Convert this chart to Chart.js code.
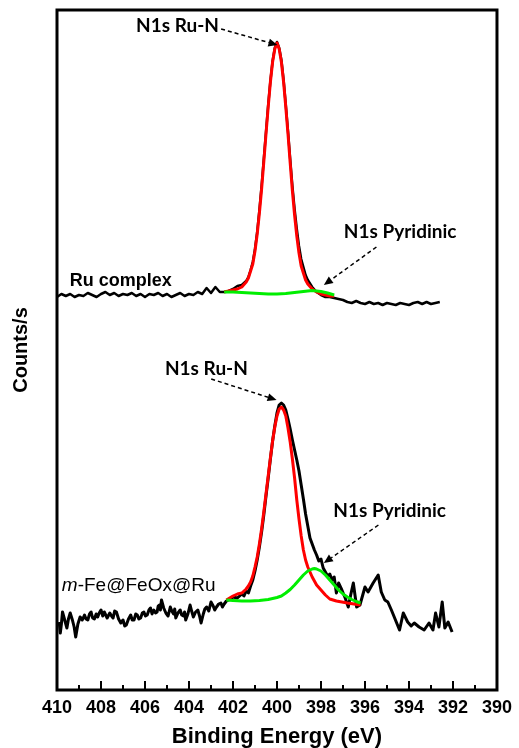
<!DOCTYPE html>
<html>
<head>
<meta charset="utf-8">
<script src="https://cdn.jsdelivr.net/npm/chart.js@4.4.0/dist/chart.umd.min.js"></script>
<style>
html, body { margin: 0; padding: 0; background: #fff; }
#wrap { width: 519px; height: 748px; position: relative; }
</style>
</head>
<body>
<div id="wrap"><canvas id="myChart"></canvas></div>
<script>
// N1s spectra, binding energy (eV) vs counts (a.u., top trace offset up)
const ruE = [410.0, 409.8, 409.6, 409.4, 409.2, 409.0, 408.8, 408.6, 408.4, 408.2, 408.0, 407.8, 407.6, 407.4, 407.2, 407.0, 406.8, 406.6, 406.4, 406.2,
  406.0, 405.8, 405.6, 405.4, 405.2, 405.0, 404.8, 404.6, 404.4, 404.2, 404.0, 403.8, 403.6, 403.4, 403.2, 403.0, 402.8, 402.6,
  402.4, 402.2, 402.0, 401.8, 401.6, 401.4, 401.3, 401.2, 401.1, 401.0, 400.9, 400.8, 400.7, 400.6, 400.5, 400.4, 400.3, 400.2, 400.1, 400.0,
  399.9, 399.8, 399.7, 399.6, 399.5, 399.4, 399.3, 399.2, 399.1, 399.0, 398.9, 398.8, 398.7, 398.6, 398.4, 398.2, 398.0, 397.8, 397.6, 397.4,
  397.2, 397.0, 396.8, 396.6, 396.4, 396.2, 396.0, 395.8, 395.6, 395.4, 395.2, 395.0, 394.8, 394.6, 394.4, 394.2, 394.0, 393.8, 393.6, 393.4,
  393.2, 393.0, 392.8, 392.6];
const ruCounts = [393, 396, 394, 396, 393, 395, 394, 397, 395, 393, 396, 398, 395, 397, 394, 396, 395, 397, 394, 396,
  393, 396, 395, 397, 394, 396, 393, 395, 397, 394, 396, 395, 398, 396, 402, 397, 403, 398,
  398, 399, 401, 404, 405, 409, 413, 420, 428, 441, 458, 480, 504, 531, 558, 585, 609, 629, 642, 648,
  642, 630, 610, 585, 559, 531, 504, 481, 461, 444, 431, 423, 415, 410, 403, 398, 395, 393, 393, 392,
  391, 390, 388, 387, 389, 387, 386, 388, 386, 387, 385, 387, 386, 385, 387, 386, 385, 387, 388, 386,
  388, 386, 387, 388];

// Ru complex fits
const ruFitE = [402.4, 402.2, 402.0, 401.8, 401.6, 401.4, 401.3, 401.2, 401.1, 401.0, 400.9, 400.8, 400.7, 400.6, 400.5, 400.4, 400.3, 400.2, 400.1, 400.0,
  399.9, 399.8, 399.7, 399.6, 399.5, 399.4, 399.3, 399.2, 399.1, 399.0, 398.9, 398.8, 398.7, 398.6, 398.4, 398.2, 398.0, 397.8, 397.6, 397.4];
const ruRuN = [398, 399, 400, 401, 403, 408, 412, 419, 426, 439, 456, 477, 501, 528, 556, 583, 608, 628, 641, 647,
  641, 628, 608, 583, 556, 527, 499, 475, 454, 437, 424, 417, 410, 406, 401, 398, 396, 395, 394, 394];
const ruPyrE = [402.4, 402.0, 401.6, 401.2, 400.8, 400.4, 400.0, 399.6, 399.2, 398.8, 398.4, 398.0, 397.7, 397.4];
const ruPyr = [398, 398, 397.5, 397, 396.5, 396, 396, 396.5, 397.5, 398.5, 399.5, 398.5, 397, 395];

// m-Fe@FeOx@Ru
const feE = [409.9, 409.85, 409.8, 409.75, 409.65, 409.55, 409.48, 409.4, 409.3, 409.22, 409.15, 409.05, 408.95, 408.85, 408.75, 408.68, 408.6, 408.52, 408.45,
  408.38, 408.3, 408.22, 408.15, 408.08, 408.0, 407.92, 407.85, 407.72, 407.6, 407.52, 407.45, 407.38, 407.3, 407.2, 407.1, 407.0,
  406.92, 406.85, 406.75, 406.65, 406.58, 406.5, 406.42, 406.35, 406.28, 406.2, 406.12, 406.05, 405.98, 405.9, 405.82, 405.75, 405.68, 405.6,
  405.52, 405.45, 405.4, 405.35, 405.3, 405.25, 405.15, 405.05, 404.95, 404.85, 404.78, 404.7, 404.65, 404.6, 404.5, 404.4, 404.33, 404.25,
  404.2, 404.15, 404.05, 403.95, 403.88, 403.8, 403.7, 403.6, 403.52, 403.45, 403.35, 403.28, 403.2, 403.1, 403.0, 402.9, 402.83, 402.75,
  402.65, 402.55, 402.48, 402.4,
  402.3, 402.2, 402.0, 401.8, 401.6, 401.5, 401.4, 401.3, 401.2, 401.1, 401.0, 400.9, 400.8, 400.7, 400.6, 400.5, 400.4, 400.3, 400.2, 400.1, 400.0,
  399.9, 399.8, 399.7, 399.6, 399.5, 399.4, 399.3, 399.2, 399.1, 399.0, 398.9, 398.8, 398.7, 398.6, 398.5, 398.4, 398.3, 398.2, 398.1, 398.0,
  397.9, 397.8, 397.7, 397.6, 397.5, 397.4, 397.3, 397.2, 397.05, 396.9, 396.76, 396.65, 396.53, 396.38, 396.23, 396.0, 395.86, 395.63, 395.4,
  395.26, 395.1, 394.96, 394.8, 394.67, 394.43, 394.26, 394.06, 393.9, 393.76, 393.54, 393.31, 393.09, 392.91, 392.79, 392.64, 392.49, 392.37,
  392.22, 392.04];
const feCounts = [68, 57, 66, 78, 70, 62, 71, 77, 70, 63, 53, 66, 73, 70, 75, 71, 70, 76, 78,
  72, 71, 76, 73, 77, 80, 74, 78, 72, 77, 74, 72, 79, 78, 71, 67, 70,
  64, 65, 71, 75, 70, 70, 76, 75, 71, 72, 77, 78, 74, 75, 80, 82, 76, 80,
  77, 78, 84, 85, 80, 90, 82, 77, 74, 83, 79, 76, 81, 72, 77, 80, 75, 74,
  78, 70, 76, 85, 79, 73, 78, 80, 74, 67, 76, 81, 83, 79, 88, 84, 80, 83,
  86, 87, 83, 86,
  89, 90, 93, 92, 96, 94, 99, 97, 104, 110, 119, 130, 143, 158, 175, 194, 212, 231, 249, 264, 277,
  285, 287, 285, 280, 271, 261, 250, 240, 230, 219, 205, 191, 176, 164, 152, 146, 140, 135, 129, 131,
  122, 118, 114, 116, 110, 113, 97, 107, 100, 92, 83, 95, 107, 83, 85, 103, 98, 107, 115,
  98, 90, 88, 80, 73, 60, 77, 68, 64, 67, 63, 60, 67, 60, 77, 63, 88, 62,
  68, 58];

// m-Fe@FeOx@Ru fits
const feRuNE = [402.3, 402.0, 401.8, 401.6, 401.4, 401.3, 401.2, 401.1, 401.0, 400.9, 400.8, 400.7, 400.6, 400.5, 400.4, 400.3, 400.2, 400.1, 400.0,
  399.9, 399.8, 399.7, 399.6, 399.5, 399.4, 399.3, 399.2, 399.1, 399.0, 398.9, 398.8, 398.7, 398.6, 398.5, 398.4, 398.3, 398.2,
  398.0, 397.8, 397.6, 397.3, 396.8, 396.2];
const feRuN = [90, 94, 96, 97, 101, 104, 108, 114, 123, 133, 146, 161, 178, 196, 214, 232, 249, 263, 274,
  281, 283, 280, 274, 262, 248, 231, 212, 190, 171, 154, 140, 130, 123, 118, 113, 109, 105,
  100, 95, 91, 89, 87, 85];
const fePyrE = [402.3, 402.0, 401.6, 401.2, 400.8, 400.4, 400.0, 399.8, 399.6, 399.4, 399.2, 399.0, 398.8, 398.6, 398.4, 398.3, 398.2,
  398.0, 397.8, 397.6, 397.4, 397.2, 397.0, 396.8, 396.6, 396.4, 396.2];
const fePyr = [90, 89.5, 89, 89, 89.5, 90.5, 92.5, 94, 97, 100.5, 105, 110, 115, 119, 121, 121.5, 121,
  119, 115, 110, 105, 100, 96, 93, 90.5, 88.5, 87];

const xTicks = [410, 408, 406, 404, 402, 400, 398, 396, 394, 392, 390];

function pts(es, vs) {
  return es.map((e, i) => ({x: e, y: vs[i]}));
}

// labels and arrows, placed in data units
const notes = [
  {text: 'N1s Ru-N', e: 404.52, i: 664, align: 'center', kind: 'peak'},
  {text: 'N1s Pyridinic', e: 394.40, i: 458, align: 'center', kind: 'peak'},
  {text: 'Ru complex', e: 409.42, i: 409, align: 'left', kind: 'sample'},
  {text: 'N1s Ru-N', e: 403.21, i: 321, align: 'center', kind: 'peak'},
  {text: 'N1s Pyridinic', e: 394.88, i: 179, align: 'center', kind: 'peak'},
  {text: '-Fe@FeOx@Ru', e: 409.78, i: 104, align: 'left', kind: 'sample2', prefix: 'm'}
];
const arrows = [
  [402.54, 661, 399.98, 645],
  [395.48, 443, 397.87, 405],
  [402.99, 311, 400.02, 290],
  [395.39, 165, 397.87, 127]
];

const extras = {
  id: 'extras',
  afterDatasetsDraw(chart) {
    const ctx = chart.ctx;
    const a = chart.chartArea;
    const x = chart.scales.x, y = chart.scales.y;
    ctx.save();
    ctx.strokeStyle = '#000';
    ctx.fillStyle = '#000';

    // frame
    ctx.lineWidth = 3;
    ctx.strokeRect(a.left, a.top, a.right - a.left, a.bottom - a.top);

    // inward ticks
    ctx.lineWidth = 2;
    for (let v = 391; v < 410; v++) {
      const px = x.getPixelForValue(v);
      const len = xTicks.includes(v) ? 9 : 5;
      ctx.beginPath();
      ctx.moveTo(px, a.bottom);
      ctx.lineTo(px, a.bottom - len);
      ctx.stroke();
    }

    // arrows
    arrows.forEach(r => {
      const x1 = x.getPixelForValue(r[0]), y1 = y.getPixelForValue(r[1]);
      const x2 = x.getPixelForValue(r[2]), y2 = y.getPixelForValue(r[3]);
      const ang = Math.atan2(y2 - y1, x2 - x1);
      const hl = 9, hw = 4;
      const bx = x2 - hl * Math.cos(ang), by = y2 - hl * Math.sin(ang);
      ctx.lineWidth = 1.5;
      ctx.setLineDash([4, 3]);
      ctx.beginPath();
      ctx.moveTo(x1, y1);
      ctx.lineTo(bx, by);
      ctx.stroke();
      ctx.setLineDash([]);
      ctx.beginPath();
      ctx.moveTo(x2, y2);
      ctx.lineTo(bx + hw * Math.sin(ang), by - hw * Math.cos(ang));
      ctx.lineTo(bx - hw * Math.sin(ang), by + hw * Math.cos(ang));
      ctx.closePath();
      ctx.fill();
    });

    // text
    ctx.textBaseline = 'middle';
    notes.forEach(n => {
      let px = x.getPixelForValue(n.e);
      const py = y.getPixelForValue(n.i);
      if (n.kind === 'peak') {
        ctx.font = 'bold 19px Lato';
      } else if (n.kind === 'sample') {
        ctx.font = 'bold 18px "Liberation Sans"';
      } else {
        ctx.font = '19px "Liberation Sans"';
      }
      ctx.textAlign = n.align;
      if (n.prefix) {
        ctx.font = 'italic 19px "Liberation Sans"';
        ctx.textAlign = 'left';
        ctx.fillText(n.prefix, px, py);
        px += ctx.measureText(n.prefix).width;
        ctx.font = '19px "Liberation Sans"';
      }
      ctx.fillText(n.text, px, py);
    });
    ctx.restore();
  }
};

const ctx = document.getElementById('myChart');
const myChart = new Chart(ctx, {
  type: 'scatter',
  data: {
    datasets: [
      {label: 'Ru complex', data: pts(ruE, ruCounts), borderColor: '#000', borderWidth: 2.5, order: 3},
      {label: 'Ru complex Ru-N', data: pts(ruFitE, ruRuN), borderColor: '#ff0000', borderWidth: 3, order: 2},
      {label: 'Ru complex pyridinic', data: pts(ruPyrE, ruPyr), borderColor: '#00ee00', borderWidth: 3, order: 1},
      {label: 'm-Fe@FeOx@Ru', data: pts(feE, feCounts), borderColor: '#000', borderWidth: 3, order: 3},
      {label: 'm-Fe@FeOx@Ru Ru-N', data: pts(feRuNE, feRuN), borderColor: '#ff0000', borderWidth: 3, order: 2},
      {label: 'm-Fe@FeOx@Ru pyridinic', data: pts(fePyrE, fePyr), borderColor: '#00ee00', borderWidth: 3, order: 1}
    ]
  },
  options: {
    responsive: true,
    maintainAspectRatio: false,
    animation: false,
    datasets: {scatter: {showLine: true, pointRadius: 0, tension: 0, borderJoinStyle: 'round'}},
    layout: {padding: {top: 10, right: 17, left: 0, bottom: 0}},
    plugins: {legend: {display: false}, tooltip: {enabled: false}},
    scales: {
      x: {
        type: 'linear',
        reverse: true,
        min: 390,
        max: 410,
        grid: {display: false, drawTicks: false},
        border: {display: false},
        afterBuildTicks: s => { s.ticks = xTicks.map(v => ({value: v})); },
        afterFit: s => { s.height = 58; },
        ticks: {padding: 7, color: '#000', maxRotation: 0, font: {family: 'Liberation Sans', size: 18, weight: 'bold'}},
        title: {display: true, text: 'Binding Energy (eV)', color: '#000', padding: 0,
          font: {family: 'Liberation Sans', size: 22, weight: 'bold', lineHeight: 1}}
      },
      y: {
        min: 0,
        max: 680,
        grid: {display: false, drawTicks: false},
        border: {display: false},
        ticks: {display: false},
        afterFit: s => { s.width = 57; },
        title: {display: true, text: 'Counts/s', color: '#000', padding: {top: 11, bottom: 0},
          font: {family: 'Liberation Sans', size: 20, weight: 'bold', lineHeight: 1}}
      }
    }
  },
  plugins: [extras]
});
</script>
</body>
</html>
